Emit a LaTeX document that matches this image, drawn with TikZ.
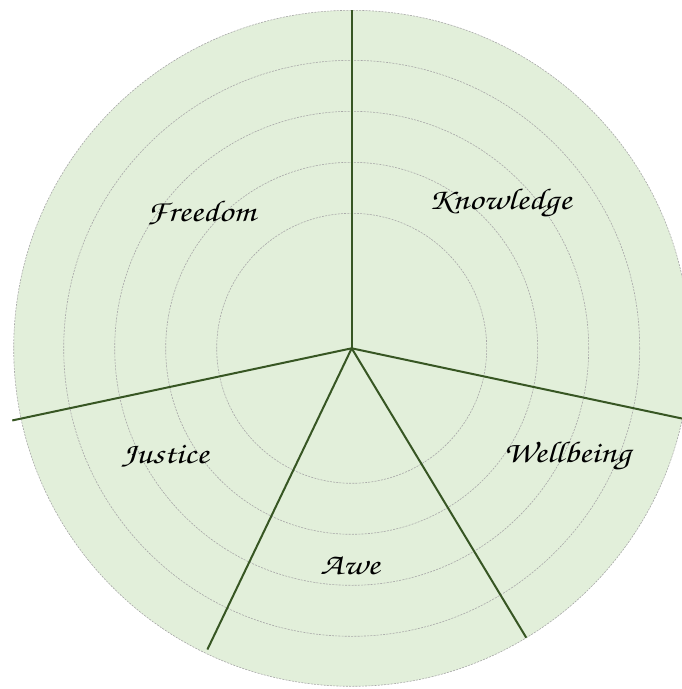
\documentclass[tikz,border=0pt]{standalone}
\usepackage[T1]{fontenc}
\usetikzlibrary{calc}
\definecolor{wheelfill}{HTML}{E2EFDA}
\definecolor{spoke}{HTML}{375623}
\definecolor{ringgray}{HTML}{A8A8A8}
\newcommand{\wlabel}[1]{\scalebox{1.2}[1]{#1}}
\tikzset{
  ring/.style={draw=ringgray, line width=0.6pt, dash pattern=on 2pt off 1.2pt},
  spokeline/.style={draw=spoke, line width=2pt},
  lbl/.style={font=\fontsize{30}{34}\fontfamily{pzc}\selectfont, text=black, inner sep=0pt},
}
\begin{document}
\begin{tikzpicture}[x=1pt,y=-1pt]
\useasboundingbox (0,0) rectangle (682,689);
\clip (0,0) rectangle (682,689);
\begin{scope}[shift={(351.7,348.3)}, y=1pt]
\coordinate (c) at (0,0);
\fill[wheelfill] (c) circle (338);
\draw[ring] (c) circle (338);
\foreach \r in {135,186,237,288} \draw[ring] (c) circle (\r);
\coordinate (eK) at (90:338);
\coordinate (eF) at (192:347);
\coordinate (eJ) at (244.4:334);
\coordinate (eA) at (301.1:338);
\coordinate (eW) at (348:350);
\draw[spokeline] (c) -- (eK);
\draw[spokeline] (c) -- (eF);
\draw[spokeline] (c) -- (eJ);
\draw[spokeline] (c) -- (eA);
\draw[spokeline] (c) -- (eW);
\end{scope}
\node[lbl] (knowledge) at (500,203) {\wlabel{Knowledge}};
\node[lbl] (freedom) at (201,213) {\wlabel{Freedom}};
\node[lbl] (justice) at (165,457) {\wlabel{Justice}};
\node[lbl] (wellbeing) at (567,456) {\wlabel{Wellbeing}};
\node[lbl] (awe) at (350,565) {\wlabel{Awe}};
\end{tikzpicture}
\end{document}
